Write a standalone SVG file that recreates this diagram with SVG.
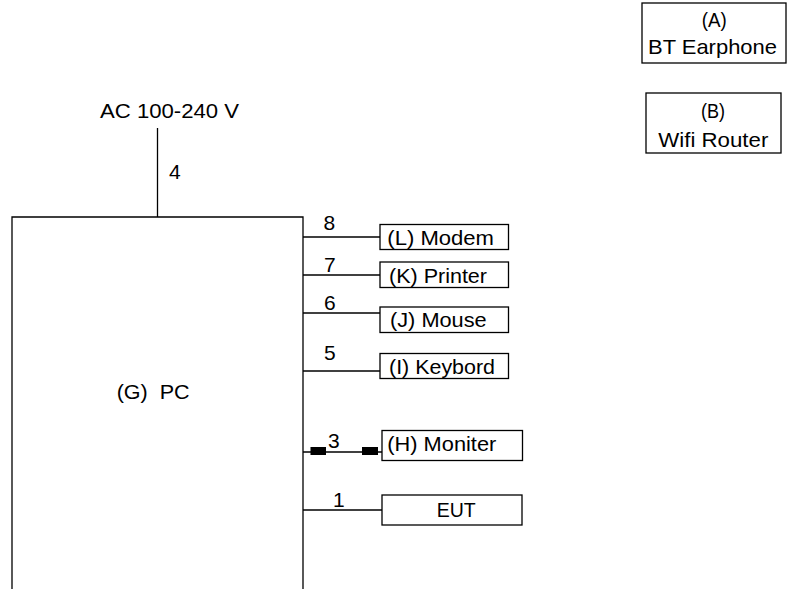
<svg xmlns="http://www.w3.org/2000/svg" width="787" height="589" viewBox="0 0 787 589">
<style>
text{font-family:"Liberation Sans",Arial,sans-serif;font-size:21px;fill:#000}
.b{fill:#fff;stroke:#000;stroke-width:1.3}
.l{fill:none;stroke:#000;stroke-width:1.3}
.k{fill:#000}
</style>
<rect width="787" height="589" fill="#fff"/>
<g id="connectors">
<line class="l" x1="157.5" y1="128" x2="157.5" y2="217"/>
<line class="l" x1="303" y1="237" x2="380" y2="237"/>
<line class="l" x1="303" y1="275" x2="380" y2="275"/>
<line class="l" x1="303" y1="313" x2="380" y2="313"/>
<line class="l" x1="303" y1="371" x2="380" y2="371"/>
<line class="l" x1="303" y1="452" x2="382" y2="452"/>
<rect class="k" x="310.5" y="447" width="15.5" height="8"/>
<rect class="k" x="362" y="447" width="16" height="8"/>
<line class="l" x1="303" y1="510" x2="382" y2="510"/>
<text x="169" y="179">4</text>
<text x="323.5" y="230">8</text>
<text x="324" y="272">7</text>
<text x="324" y="310">6</text>
<text x="324" y="360">5</text>
<text x="328" y="447.5">3</text>
<text x="333" y="507">1</text>
</g>
<g id="ac">
<text x="100" y="117.5" textLength="139" lengthAdjust="spacingAndGlyphs">AC 100-240 V</text>
</g>
<g id="pc">
<path class="l" d="M12,589 V217 H303 V589"/>
<text x="116.7" y="399" textLength="73" lengthAdjust="spacingAndGlyphs" xml:space="preserve">(G)  PC</text>
</g>
<g id="modem">
<rect class="b" x="380" y="224.5" width="128.5" height="25"/>
<text x="387.3" y="244.5" textLength="106.7" lengthAdjust="spacingAndGlyphs">(L) Modem</text>
</g>
<g id="printer">
<rect class="b" x="380" y="262" width="128.5" height="25.5"/>
<text x="389" y="282.7" textLength="98" lengthAdjust="spacingAndGlyphs">(K) Printer</text>
</g>
<g id="mouse">
<rect class="b" x="380" y="307" width="128.5" height="25.5"/>
<text x="390" y="327.3" textLength="96.7" lengthAdjust="spacingAndGlyphs">(J) Mouse</text>
</g>
<g id="keybord">
<rect class="b" x="380" y="353.5" width="128.5" height="25"/>
<text x="389" y="373.5" textLength="106" lengthAdjust="spacingAndGlyphs">(I) Keybord</text>
</g>
<g id="moniter">
<rect class="b" x="382" y="430.5" width="140.5" height="30"/>
<text x="387.3" y="451.3" textLength="109" lengthAdjust="spacingAndGlyphs">(H) Moniter</text>
</g>
<g id="eut">
<rect class="b" x="382" y="495" width="140" height="30"/>
<text x="436.7" y="517.3" textLength="39" lengthAdjust="spacingAndGlyphs">EUT</text>
</g>
<g id="bt-earphone">
<rect class="b" x="642" y="3" width="144" height="60"/>
<text x="701.7" y="26.5" textLength="25" lengthAdjust="spacingAndGlyphs">(A)</text>
<text x="648" y="54" textLength="129" lengthAdjust="spacingAndGlyphs">BT Earphone</text>
</g>
<g id="wifi-router">
<rect class="b" x="646" y="93" width="135" height="60"/>
<text x="701" y="118" textLength="24" lengthAdjust="spacingAndGlyphs">(B)</text>
<text x="658.3" y="147" textLength="110" lengthAdjust="spacingAndGlyphs">Wifi Router</text>
</g>
</svg>
